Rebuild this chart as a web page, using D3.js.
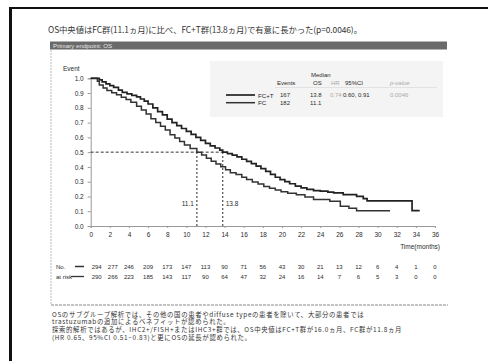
<!DOCTYPE html>
<html>
<head>
<meta charset="utf-8">
<script src="https://cdn.jsdelivr.net/npm/d3@7/dist/d3.min.js"></script>
<style>
  html, body { margin: 0; padding: 0; background: #fff; }
  svg { display: block; }
</style>
</head>
<body>
<svg id="chart" width="488" height="361"></svg>
<script>
// Kaplan-Meier overall survival, FC+T vs FC (time in months, survival proportion)
const fctTime = [0, 0.9, 1.2, 1.6, 2.0, 2.4, 2.9, 3.3, 3.8, 4.3, 4.8, 5.2, 5.6, 6.0, 6.5, 7.0, 7.5, 8.0, 8.5, 9.0,
  9.5, 10.0, 10.5, 11.0, 11.5, 12.0, 12.5, 13.0, 13.5, 13.8, 14.3, 14.8, 15.3, 15.8, 16.3, 16.8, 17.3, 17.8, 18.3,
  18.8, 19.3, 19.8, 20.3, 20.8, 21.4, 22.0, 22.6, 23.3, 24.0, 24.8, 25.4, 26.4, 27.8, 28.5, 28.9, 33.6, 34.4];
const fctSurv = [1.000, 0.990, 0.976, 0.962, 0.950, 0.938, 0.920, 0.905, 0.895, 0.885, 0.874, 0.860, 0.845, 0.826,
  0.800, 0.774, 0.752, 0.724, 0.700, 0.680, 0.660, 0.640, 0.620, 0.600, 0.580, 0.560, 0.543, 0.528, 0.514, 0.500,
  0.490, 0.480, 0.468, 0.452, 0.438, 0.422, 0.405, 0.388, 0.370, 0.350, 0.330, 0.314, 0.300, 0.286, 0.270, 0.258,
  0.248, 0.240, 0.236, 0.230, 0.224, 0.212, 0.200, 0.186, 0.170, 0.104, 0.104];

const fcTime = [0, 0.7, 0.9, 1.3, 1.7, 2.2, 2.7, 3.2, 3.7, 4.2, 4.8, 5.3, 5.8, 6.3, 6.8, 7.3, 7.8, 8.3, 8.8, 9.3,
  9.8, 10.4, 11.1, 11.6, 12.1, 12.6, 13.1, 13.6, 14.1, 14.6, 15.2, 15.8, 16.3, 16.9, 17.5, 18.1, 18.7, 19.3, 19.9,
  20.6, 21.5, 22.4, 23.3, 25.0, 26.1, 27.0, 27.8, 31.3];
const fcSurv = [1.000, 0.980, 0.955, 0.935, 0.918, 0.902, 0.888, 0.872, 0.856, 0.838, 0.810, 0.786, 0.758, 0.726,
  0.700, 0.676, 0.650, 0.618, 0.596, 0.572, 0.548, 0.524, 0.500, 0.480, 0.458, 0.438, 0.420, 0.402, 0.380, 0.360,
  0.348, 0.330, 0.314, 0.298, 0.284, 0.268, 0.256, 0.244, 0.232, 0.222, 0.212, 0.196, 0.180, 0.167, 0.134, 0.120,
  0.104, 0.104];

// Medians (months)
const medianFCT = 13.8;
const medianFC = 11.1;

// Axis ticks
const xTicks = [0, 2, 4, 6, 8, 10, 12, 14, 16, 18, 20, 22, 24, 26, 28, 30, 32, 34, 36];
const yTicks = [0, 0.1, 0.2, 0.3, 0.4, 0.5, 0.6, 0.7, 0.8, 0.9, 1.0];

// Number at risk at each x tick
const riskFCT = [294, 277, 246, 209, 173, 147, 113, 90, 71, 56, 43, 30, 21, 13, 12, 6, 4, 1, 0];
const riskFC = [290, 266, 223, 185, 143, 117, 90, 64, 47, 32, 24, 16, 14, 7, 6, 5, 3, 0, 0];

// Legend table
const legendHeader = ["Events", "OS", "HR", "95%CI", "p-value"];
const legendRows = [
  { name: "FC+T", events: "167", os: "13.8", hr: "0.74", ci: "0.60, 0.91", p: "0.0046" },
  { name: "FC", events: "182", os: "11.1", hr: "", ci: "", p: "" }
];

const titleText = "OS中央値はFC群(11.1ヵ月)に比べ、FC+T群(13.8ヵ月)で有意に長かった(p=0.0046)。";
const barText = "Primary endpoint: OS";
const notes = [
  "OSのサブグループ解析では、その他の国の患者やdiffuse typeの患者を除いて、大部分の患者では",
  "trastuzumabの追加によるベネフィットが認められた。",
  "探索的解析ではあるが、IHC2+/FISH+またはIHC3+群では、OS中央値はFC+T群が16.0ヵ月、FC群が11.8ヵ月",
  "(HR 0.65、95%CI 0.51−0.83)と更にOSの延長が認められた。"
];

const ink = "#2b2b2b";
const latin = "'Liberation Sans', Arial, sans-serif";
const cjk = "'Noto Sans CJK JP', 'Liberation Sans', sans-serif";

const svg = d3.select("#chart");

// Page frame
svg.append("line").attr("x1", 10).attr("x2", 488).attr("y1", 8).attr("y2", 8)
  .attr("stroke", "#111").attr("stroke-width", 2);
svg.append("line").attr("x1", 10.5).attr("x2", 10.5).attr("y1", 7).attr("y2", 361)
  .attr("stroke", "#111").attr("stroke-width", 3);

// Heading sentence
svg.append("text").attr("x", 48).attr("y", 29).attr("dominant-baseline", "central")
  .attr("font-family", cjk).attr("font-size", 8.4).attr("fill", "#333")
  .attr("textLength", 314).attr("lengthAdjust", "spacing").text(titleText);

// Section bar
svg.append("rect").attr("x", 50).attr("y", 41.5).attr("width", 397).attr("height", 8)
  .attr("fill", "#6a6a6a");
svg.append("text").attr("x", 53).attr("y", 45.7).attr("dominant-baseline", "central")
  .attr("font-family", latin).attr("font-size", 6.2).attr("fill", "#e8e8e8").text(barText);

// Panel edges
svg.append("line").attr("x1", 51).attr("x2", 51).attr("y1", 50).attr("y2", 305)
  .attr("stroke", "#bbb").attr("stroke-width", 1).attr("stroke-dasharray", "2,1");
svg.append("line").attr("x1", 51).attr("x2", 448).attr("y1", 305).attr("y2", 305)
  .attr("stroke", "#888").attr("stroke-width", 1).attr("stroke-dasharray", "3,1");

// Scales
const x = d3.scaleLinear().domain([0, 36]).range([90.7, 435]);
const y = d3.scaleLinear().domain([0, 1]).range([226, 78.3]);

// Legend background
svg.append("rect").attr("x", 210).attr("y", 61).attr("width", 233).attr("height", 56)
  .attr("fill", "#f4f4f4");

// Axes
const xAxis = d3.axisBottom(x).tickValues(xTicks).tickSize(2).tickFormat(d3.format("d"));
const gx = svg.append("g").attr("transform", `translate(0,${y(0)})`).call(xAxis);
gx.select(".domain").attr("stroke", "#999");
gx.selectAll(".tick line").attr("stroke", "#999");
gx.selectAll(".tick text").attr("font-family", latin).attr("font-size", 6.5).attr("fill", ink)
  .attr("dy", "0.9em");

const yAxis = d3.axisLeft(y).tickValues(yTicks).tickSize(3).tickFormat(d3.format(".1f"));
const gy = svg.append("g").attr("transform", `translate(${x(0)},0)`).call(yAxis);
gy.select(".domain").attr("stroke", "#999");
gy.selectAll(".tick line").attr("stroke", "#999");
gy.selectAll(".tick text").attr("font-family", latin).attr("font-size", 6.5).attr("fill", ink)
  .attr("x", -7);

svg.append("text").attr("x", 63).attr("y", 68).attr("dominant-baseline", "central")
  .attr("font-family", latin).attr("font-size", 6.5).attr("fill", ink).text("Event");
svg.append("text").attr("x", 440).attr("y", 246.5).attr("text-anchor", "end")
  .attr("dominant-baseline", "central").attr("font-family", latin).attr("font-size", 6.5)
  .attr("fill", ink).text("Time(months)");

// Median reference lines
svg.append("line").attr("x1", x(0)).attr("x2", x(medianFCT)).attr("y1", y(0.5)).attr("y2", y(0.5))
  .attr("stroke", "#333").attr("stroke-width", 1).attr("stroke-dasharray", "3,2");
[medianFC, medianFCT].forEach(m => {
  svg.append("line").attr("x1", x(m)).attr("x2", x(m)).attr("y1", y(0.5)).attr("y2", y(0))
    .attr("stroke", "#333").attr("stroke-width", 1.4).attr("stroke-dasharray", "1.5,2.5");
});
svg.append("text").attr("x", x(medianFC) - 3).attr("y", y(0.15)).attr("text-anchor", "end")
  .attr("dominant-baseline", "central").attr("font-family", latin).attr("font-size", 6.5)
  .attr("fill", ink).text(d3.format(".1f")(medianFC));
svg.append("text").attr("x", x(medianFCT) + 3).attr("y", y(0.15)).attr("text-anchor", "start")
  .attr("dominant-baseline", "central").attr("font-family", latin).attr("font-size", 6.5)
  .attr("fill", ink).text(d3.format(".1f")(medianFCT));

// Survival curves
const line = d3.line().x(d => x(d[0])).y(d => y(d[1])).curve(d3.curveStepAfter);
svg.append("path").datum(d3.zip(fcTime, fcSurv)).attr("d", line)
  .attr("fill", "none").attr("stroke", "#333").attr("stroke-width", 1.5);
svg.append("path").datum(d3.zip(fctTime, fctSurv)).attr("d", line)
  .attr("fill", "none").attr("stroke", "#222").attr("stroke-width", 1.7);

// Legend table
const hdrY = 83, rowY = [95, 102.7];
const colX = { events: 277, os: 311, hr: 331, ci: 344, p: 390 };
svg.append("text").attr("x", 311).attr("y", 75).attr("dominant-baseline", "central")
  .attr("font-family", latin).attr("font-size", 6).attr("fill", ink).text("Median");
const hdrCols = [colX.events, colX.os + 2, colX.hr, colX.ci + 1, colX.p];
legendHeader.forEach((h, i) => {
  const faint = h === "HR" || h === "p-value";
  svg.append("text").attr("x", hdrCols[i]).attr("y", hdrY).attr("dominant-baseline", "central")
    .attr("font-family", latin).attr("font-size", 6).attr("font-style", h === "p-value" ? "italic" : null)
    .attr("fill", faint ? "#aaa" : ink).text(h);
});
svg.append("line").attr("x1", 275).attr("x2", 437).attr("y1", 87.5).attr("y2", 87.5)
  .attr("stroke", "#ddd").attr("stroke-width", 0.8);
legendRows.forEach((r, i) => {
  const yy = rowY[i];
  svg.append("line").attr("x1", 226).attr("x2", 255).attr("y1", yy).attr("y2", yy)
    .attr("stroke", i === 0 ? "#222" : "#333").attr("stroke-width", i === 0 ? 1.7 : 1.5);
  svg.append("text").attr("x", 258).attr("y", yy).attr("dominant-baseline", "central")
    .attr("font-family", latin).attr("font-size", 6.2).attr("fill", ink).text(r.name);
  const cells = [[colX.events + 3, r.events, ink], [colX.os - 1, r.os, ink], [colX.hr - 1, r.hr, "#aaa"],
    [colX.ci - 1, r.ci, ink], [colX.p, r.p, "#aaa"]];
  cells.forEach(c => {
    svg.append("text").attr("x", c[0]).attr("y", yy).attr("dominant-baseline", "central")
      .attr("font-family", latin).attr("font-size", 6).attr("fill", c[2]).text(c[1]);
  });
});

// Number at risk
const riskY = [266.5, 276.5];
[["No.", riskFCT], ["at risk", riskFC]].forEach((row, i) => {
  svg.append("text").attr("x", 56).attr("y", riskY[i]).attr("dominant-baseline", "central")
    .attr("font-family", latin).attr("font-size", 6).attr("fill", ink).text(row[0]);
  svg.append("line").attr("x1", i === 0 ? 75 : 71).attr("x2", 84).attr("y1", riskY[i]).attr("y2", riskY[i])
    .attr("stroke", "#333").attr("stroke-width", i === 0 ? 1.5 : 1.3);
  svg.selectAll(null).data(row[1]).enter().append("text")
    .attr("x", (d, k) => x(xTicks[k]) + (k === 0 ? 6 : k === 1 ? 3 : 0))
    .attr("y", riskY[i]).attr("text-anchor", "middle").attr("dominant-baseline", "central")
    .attr("font-family", latin).attr("font-size", 6).attr("fill", ink).text(d => d);
});

// Notes under the panel
const noteY = [314, 321.7, 329.4, 337.1];
notes.forEach((t, i) => {
  svg.append("text").attr("x", 52).attr("y", noteY[i]).attr("dominant-baseline", "central")
    .attr("font-family", cjk).attr("font-size", 6.4).attr("letter-spacing", 0.65)
    .attr("fill", "#333").text(t);
});
</script>
</body>
</html>
